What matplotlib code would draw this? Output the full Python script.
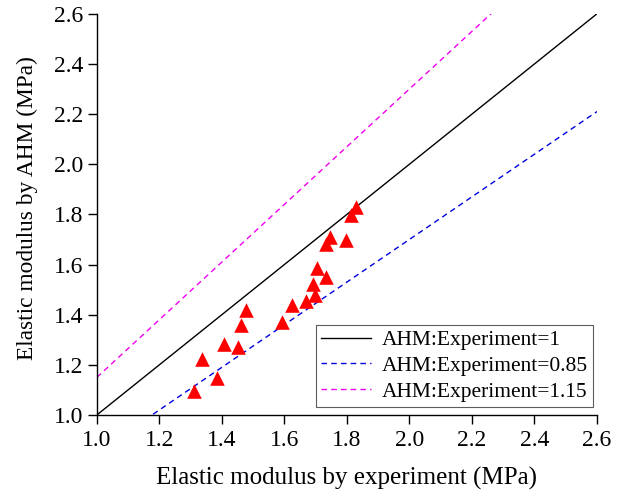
import numpy as np
import matplotlib
matplotlib.use("Agg")
import matplotlib.pyplot as plt

plt.rcParams['font.family'] = ['Liberation Serif', 'DejaVu Serif']

exp_vals = [1.828, 1.812, 1.746, 1.732, 1.796, 1.703, 1.733, 1.690, 1.697, 1.669,
            1.625, 1.593, 1.476, 1.462, 1.407, 1.452, 1.335, 1.385, 1.311]
ahm_vals = [1.831, 1.798, 1.711, 1.681, 1.698, 1.585, 1.549, 1.522, 1.479, 1.455,
            1.438, 1.372, 1.418, 1.359, 1.283, 1.270, 1.223, 1.149, 1.097]
ratios = [1.0, 0.85, 1.15]
ratio_labels = ["AHM:Experiment=1", "AHM:Experiment=0.85", "AHM:Experiment=1.15"]
ticks = [1.0, 1.2, 1.4, 1.6, 1.8, 2.0, 2.2, 2.4, 2.6]

fig = plt.figure(figsize=(6.29, 4.94), dpi=100)
ax = fig.add_axes([0.154, 0.160, 0.795, 0.812])

xs = np.linspace(1.0, 2.6, 200)
styles = [dict(color='black', lw=1.0, ls='-'),
          dict(color='#0000dd', lw=1.0, ls=(0, (4, 3))),
          dict(color='#ee00ee', lw=1.0, ls=(0, (4, 3)))]
for r, lab, st in zip(ratios, ratio_labels, styles):
    ax.plot(xs, r * xs, label=lab, **st)

ax.scatter(exp_vals, ahm_vals, marker='^', s=110, color='#ff0000', zorder=3, linewidths=0)

ax.set_xlim(1.0, 2.6)
ax.set_ylim(1.0, 2.6)
ax.set_xticks(ticks)
ax.set_yticks(ticks)
ax.set_xticklabels([f"{t:.1f}" for t in ticks])
ax.set_yticklabels([f"{t:.1f}" for t in ticks])
ax.tick_params(direction='out', length=6.5, width=1, labelsize=17, colors='black', pad=3.5)
ax.tick_params(axis='x', pad=4.5)
for s in ['top', 'right']:
    ax.spines[s].set_visible(False)
for s in ['left', 'bottom']:
    ax.spines[s].set_linewidth(1.0)

ax.set_xlabel("Elastic modulus by experiment (MPa)", fontsize=18)
ax.set_ylabel("Elastic modulus by AHM (MPa)", fontsize=16.8)
ax.xaxis.set_label_coords(0.5, -0.13)
ax.yaxis.set_label_coords(-0.118, 0.516)

leg = ax.legend(loc='lower right', bbox_to_anchor=(0.992, 0.02), fontsize=15.5,
                frameon=True, fancybox=False, edgecolor='#333333', handlelength=2.3,
                borderpad=0.25, labelspacing=0.26, handletextpad=0.5, borderaxespad=0.0)
leg.get_frame().set_linewidth(0.8)

fig.savefig("out.png", dpi=100)
